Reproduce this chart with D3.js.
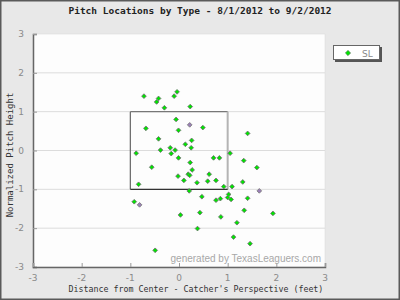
<!DOCTYPE html>
<html>
<head>
<meta charset="utf-8">
<script src="https://cdn.jsdelivr.net/npm/d3@7"></script>
<style>
  body { margin: 0; background: #fff; }
  svg { display: block; }
</style>
</head>
<body>
<div id="chart"></div>
<script>
// pitch locations (feet from center, normalized height)
var slX = [-0.72, -0.42, -0.46, -0.10, -0.04, -0.30, 0.23, -0.06, -0.68, -0.01,
           0.49, 1.41, -0.42, 0.26, 0.13, 0.25, -0.18, -0.08, -0.38, -0.88,
           -0.16, 1.05, -0.01, 0.71, 0.83, 1.33, 0.23, -0.56, 1.60, 0.27,
           0.62, -0.02, 0.19, 0.22, 0.10, 0.76, 0.59, 0.37, 1.31, -0.83,
           0.21, 0.92, 1.09, 1.02, 0.47, 0.76, 0.85, 1.00, 1.07, 1.41,
           -0.92, 0.43, 0.03, 1.34, 1.93, 0.86, 1.19, 0.38, 1.12, 1.46, -0.49];
var slY = [1.40, 1.34, 1.25, 1.40, 1.51, 1.10, 1.13, 0.80, 0.57, 0.52,
           0.59, 0.44, 0.30, 0.26, 0.16, 0.07, 0.07, 0.01, 0.01, -0.07,
           -0.08, -0.07, -0.19, -0.19, -0.19, -0.26, -0.31, -0.43, -0.44, -0.50,
           -0.61, -0.66, -0.61, -0.64, -0.77, -0.77, -0.79, -0.83, -0.81, -0.87,
           -1.04, -0.93, -0.93, -1.13, -1.19, -1.28, -1.24, -1.21, -1.26, -1.23,
           -1.32, -1.60, -1.66, -1.54, -1.62, -1.71, -1.86, -2.01, -2.23, -2.40, -2.57];
// a few markers that show a purple tint
var tintX = [0.22, 1.65, -0.81];
var tintY = [0.66, -1.04, -1.40];

var xTicks = [-3, -2, -1, 0, 1, 2, 3];
var yTicks = [-3, -2, -1, 0, 1, 2, 3];
var zone = [-1, 1, -1, 1]; // left, right, bottom, top

var W = 400, H = 300;
var svg = d3.select("#chart").append("svg")
    .attr("width", W)
    .attr("height", H);

// outer panel
svg.append("rect")
    .attr("x", 0.75).attr("y", 0.75)
    .attr("width", W - 1.5).attr("height", H - 1.5)
    .attr("fill", "#e8e8e8")
    .attr("stroke", "#5a5a5a")
    .attr("stroke-width", 1.5);

var x = d3.scaleLinear().domain([-3, 3]).range([33, 325]);
var y = d3.scaleLinear().domain([-3, 3]).range([267, 34]);

// plot area
svg.append("rect")
    .attr("x", x(-3)).attr("y", y(3))
    .attr("width", x(3) - x(-3)).attr("height", y(-3) - y(3))
    .attr("fill", "#fdfdfd")
    .attr("stroke", "#d8d8d8")
    .attr("stroke-width", 0.5);

// horizontal grid
svg.append("g").selectAll("line")
    .data(yTicks.filter(d => d > -3 && d < 3))
    .join("line")
    .attr("x1", x(-3)).attr("x2", x(3))
    .attr("y1", d => y(d)).attr("y2", d => y(d))
    .attr("stroke", "#dcdcdc")
    .attr("stroke-width", 1);

// y axis, ticks drawn inward
var yAxis = svg.append("g")
    .attr("transform", `translate(${x(-3)},0)`)
    .call(d3.axisRight(y).tickValues(yTicks).tickSize(4).tickFormat(""));
yAxis.select(".domain").attr("stroke", "#666").attr("stroke-width", 1.5);
yAxis.selectAll(".tick line").attr("stroke", "#999");

svg.append("g").selectAll("text")
    .data(yTicks)
    .join("text")
    .attr("x", 24)
    .attr("y", d => y(d) + 3)
    .style("text-anchor", "end")
    .style("font", "9px 'DejaVu Sans'")
    .style("fill", "#8a8a8a")
    .text(d => d);

// x axis, ticks drawn inward
var xAxis = svg.append("g")
    .attr("transform", `translate(0,${y(-3)})`)
    .call(d3.axisTop(x).tickValues(xTicks).tickSize(4).tickFormat(""));
xAxis.select(".domain").attr("stroke", "#666").attr("stroke-width", 1.5);
xAxis.selectAll(".tick line").attr("stroke", "#999");

svg.append("g").selectAll("text")
    .data(xTicks)
    .join("text")
    .attr("x", d => x(d))
    .attr("y", 281)
    .style("text-anchor", "middle")
    .style("font", "9px 'DejaVu Sans'")
    .style("fill", "#8a8a8a")
    .text(d => d);

// strike zone (edges have slightly different shades)
var zl = x(zone[0]), zr = x(zone[1]), zb = y(zone[2]), zt = y(zone[3]);
svg.append("line").attr("x1", zl).attr("x2", zr).attr("y1", zt).attr("y2", zt)
    .attr("stroke", "#777").attr("stroke-width", 1.2);
svg.append("line").attr("x1", zl).attr("x2", zl).attr("y1", zt).attr("y2", zb)
    .attr("stroke", "#666").attr("stroke-width", 1.2);
svg.append("line").attr("x1", zr).attr("x2", zr).attr("y1", zt).attr("y2", zb)
    .attr("stroke", "#b4b4b4").attr("stroke-width", 2);
svg.append("line").attr("x1", zl).attr("x2", zr).attr("y1", zb).attr("y2", zb)
    .attr("stroke", "#333").attr("stroke-width", 1.2);

// watermark
svg.append("text")
    .attr("x", 321)
    .attr("y", 262)
    .style("text-anchor", "end")
    .style("font", "10px 'Liberation Sans'")
    .style("fill", "#a8a8a8")
    .text("generated by TexasLeaguers.com");

// points: small square diamonds
var diamond = d3.symbol().type(d3.symbolSquare).size(11);
var sl = slX.map((v, i) => ({x: v, y: slY[i]}));
var tint = tintX.map((v, i) => ({x: v, y: tintY[i]}));

svg.append("g").selectAll("path")
    .data(sl)
    .join("path")
    .attr("d", diamond)
    .attr("transform", d => `translate(${x(d.x)},${y(d.y)}) rotate(45)`)
    .attr("fill", "#00e400")
    .attr("stroke", "#707070")
    .attr("stroke-width", 0.8);

svg.append("g").selectAll("path")
    .data(tint)
    .join("path")
    .attr("d", diamond)
    .attr("transform", d => `translate(${x(d.x)},${y(d.y)}) rotate(45)`)
    .attr("fill", "#9a7fb8")
    .attr("stroke", "#7a7a7a")
    .attr("stroke-width", 0.8);

// legend
svg.append("rect")
    .attr("x", 335).attr("y", 47)
    .attr("width", 47).attr("height", 15)
    .attr("fill", "#555");
svg.append("rect")
    .attr("x", 333.5).attr("y", 45.5)
    .attr("width", 46).attr("height", 14)
    .attr("fill", "#fff")
    .attr("stroke", "#666")
    .attr("stroke-width", 1);
svg.append("path")
    .attr("d", d3.symbol().type(d3.symbolSquare).size(14))
    .attr("transform", "translate(348,53) rotate(45)")
    .attr("fill", "#00e400")
    .attr("stroke", "#707070")
    .attr("stroke-width", 0.6);
svg.append("text")
    .attr("x", 362)
    .attr("y", 56.5)
    .style("font", "9px 'DejaVu Sans'")
    .style("fill", "#8a8a8a")
    .text("SL");

// title
svg.append("text")
    .attr("x", 200)
    .attr("y", 14)
    .style("text-anchor", "middle")
    .style("font", "bold 9.5px 'DejaVu Sans Mono'")
    .style("fill", "#222")
    .text("Pitch Locations by Type - 8/1/2012 to 9/2/2012");

// axis titles
svg.append("text")
    .attr("x", 196)
    .attr("y", 292)
    .style("text-anchor", "middle")
    .style("font", "8.3px 'DejaVu Sans Mono'")
    .style("fill", "#333")
    .text("Distance from Center - Catcher's Perspective (feet)");

svg.append("text")
    .attr("transform", `translate(13, ${155}) rotate(-90)`)
    .style("text-anchor", "middle")
    .style("font", "9px 'DejaVu Sans Mono'")
    .style("fill", "#333")
    .text("Normalized Pitch Height");
</script>
</body>
</html>
